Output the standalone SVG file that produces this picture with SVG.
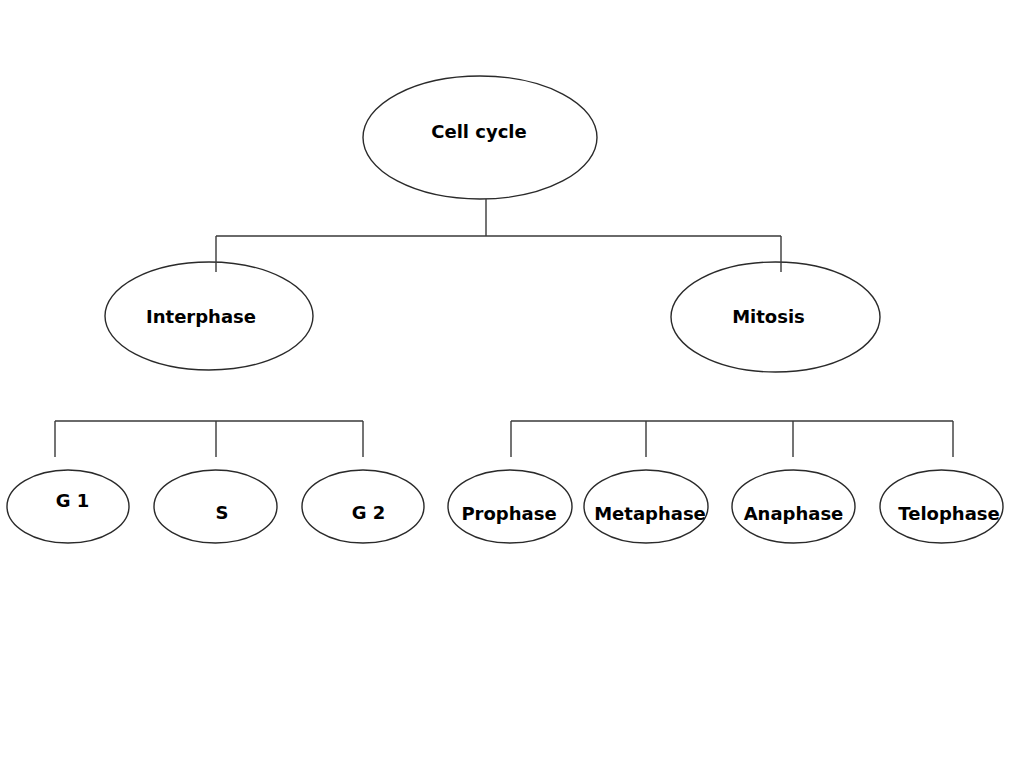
<svg xmlns="http://www.w3.org/2000/svg" width="1024" height="768" viewBox="0 0 1024 768">
<style>
  .node ellipse { fill: #ffffff; stroke: #2a2a2a; stroke-width: 1.4; }
  .node text { font-family: "DejaVu Sans", "Liberation Sans", sans-serif; font-weight: bold; font-size: 18px; fill: #000; text-anchor: middle; }
  .conn { stroke: #3a3a3a; stroke-width: 1.4; fill: none; }
</style>
<rect width="1024" height="768" fill="#ffffff"/>
<g id="cell-cycle" class="node">
  <ellipse cx="480" cy="137.5" rx="117" ry="61.5"/>
  <text x="479" y="138">Cell cycle</text>
</g>
<g id="interphase" class="node">
  <ellipse cx="209" cy="316" rx="104" ry="54"/>
  <text x="201" y="323">Interphase</text>
</g>
<g id="mitosis" class="node">
  <ellipse cx="775.5" cy="317" rx="104.5" ry="55"/>
  <text x="768.5" y="323">Mitosis</text>
</g>
<g id="g1" class="node">
  <ellipse cx="68" cy="506.5" rx="61" ry="36.5"/>
  <text x="72.5" y="507">G 1</text>
</g>
<g id="s" class="node">
  <ellipse cx="215.5" cy="506.5" rx="61.5" ry="36.5"/>
  <text x="222" y="519">S</text>
</g>
<g id="g2" class="node">
  <ellipse cx="363" cy="506.5" rx="61" ry="36.5"/>
  <text x="368.5" y="519">G 2</text>
</g>
<g id="prophase" class="node">
  <ellipse cx="510" cy="506.5" rx="62" ry="36.5"/>
  <text x="509" y="520">Prophase</text>
</g>
<g id="metaphase" class="node">
  <ellipse cx="646" cy="506.5" rx="62" ry="36.5"/>
  <text x="650" y="520">Metaphase</text>
</g>
<g id="anaphase" class="node">
  <ellipse cx="793.5" cy="506.5" rx="61.5" ry="36.5"/>
  <text x="793.5" y="520">Anaphase</text>
</g>
<g id="telophase" class="node">
  <ellipse cx="941.5" cy="506.5" rx="61.5" ry="36.5"/>
  <text x="949" y="520">Telophase</text>
</g>
<g id="connectors">
  <path class="conn" d="M486 199 V236 M216 236 H781 M216 236 V272 M781 236 V272"/>
  <path class="conn" d="M55 421 H363 M55 421 V457 M216 421 V457 M363 421 V457"/>
  <path class="conn" d="M511 421 H953 M511 421 V457 M646 421 V457 M793 421 V457 M953 421 V457"/>
</g>
</svg>
